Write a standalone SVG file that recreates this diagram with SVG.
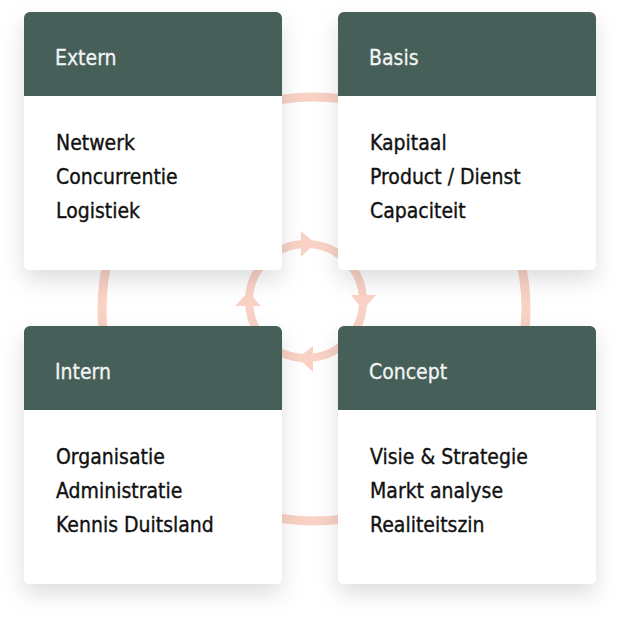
<svg xmlns="http://www.w3.org/2000/svg" width="619" height="619" viewBox="0 0 619 619">
  <defs>
    <filter id="shadow" x="-30%" y="-30%" width="160%" height="170%">
      <feDropShadow dx="0" dy="10" stdDeviation="11" flood-color="#000" flood-opacity="0.13"/>
    </filter>
    <style>
      .ring { fill: none; stroke: #f9d1c5; }
      .arrow { fill: #f9d1c5; }
      .card { fill: #ffffff; }
      .head { fill: #465f59; }
      .title { font-family: "DejaVu Sans Condensed", "DejaVu Sans", sans-serif; font-size: 21px; fill: #f2f4f3; stroke: #f2f4f3; stroke-width: 0.3px; }
      .item { font-family: "DejaVu Sans Condensed", "DejaVu Sans", sans-serif; font-size: 21px; fill: #111111; stroke: #111111; stroke-width: 0.35px; }
    </style>
  </defs>
  <rect x="0" y="0" width="619" height="619" fill="#ffffff"/>

  <g id="connectors">
    <circle class="ring" cx="314" cy="309" r="212" stroke-width="9"/>
    <circle class="ring" cx="306" cy="301" r="57" stroke-width="8"/>
    <polygon class="arrow" points="301,231 301,257 315,243"/>
    <polygon class="arrow" points="351,295 376,295 363,310"/>
    <polygon class="arrow" points="313,346 313,372 298,358"/>
    <polygon class="arrow" points="235,306 261,306 248,292"/>
  </g>

  <g id="extern">
    <g filter="url(#shadow)">
      <rect class="card" x="24" y="12" width="258" height="258" rx="6"/>
    </g>
    <path class="head" d="M24,96 V18 a6,6 0 0 1 6,-6 H276 a6,6 0 0 1 6,6 V96 Z"/>
    <text class="title" x="55" y="65">Extern</text>
    <text class="item" x="56" y="150">Netwerk</text>
    <text class="item" x="56" y="184">Concurrentie</text>
    <text class="item" x="56" y="218">Logistiek</text>
  </g>

  <g id="basis">
    <g filter="url(#shadow)">
      <rect class="card" x="338" y="12" width="258" height="258" rx="6"/>
    </g>
    <path class="head" d="M338,96 V18 a6,6 0 0 1 6,-6 H590 a6,6 0 0 1 6,6 V96 Z"/>
    <text class="title" x="369" y="65">Basis</text>
    <text class="item" x="370" y="150">Kapitaal</text>
    <text class="item" x="370" y="184">Product / Dienst</text>
    <text class="item" x="370" y="218">Capaciteit</text>
  </g>

  <g id="intern">
    <g filter="url(#shadow)">
      <rect class="card" x="24" y="326" width="258" height="258" rx="6"/>
    </g>
    <path class="head" d="M24,410 V332 a6,6 0 0 1 6,-6 H276 a6,6 0 0 1 6,6 V410 Z"/>
    <text class="title" x="55" y="379">Intern</text>
    <text class="item" x="56" y="464">Organisatie</text>
    <text class="item" x="56" y="498">Administratie</text>
    <text class="item" x="56" y="532">Kennis Duitsland</text>
  </g>

  <g id="concept">
    <g filter="url(#shadow)">
      <rect class="card" x="338" y="326" width="258" height="258" rx="6"/>
    </g>
    <path class="head" d="M338,410 V332 a6,6 0 0 1 6,-6 H590 a6,6 0 0 1 6,6 V410 Z"/>
    <text class="title" x="369" y="379">Concept</text>
    <text class="item" x="370" y="464">Visie &amp; Strategie</text>
    <text class="item" x="370" y="498">Markt analyse</text>
    <text class="item" x="370" y="532">Realiteitszin</text>
  </g>
</svg>
